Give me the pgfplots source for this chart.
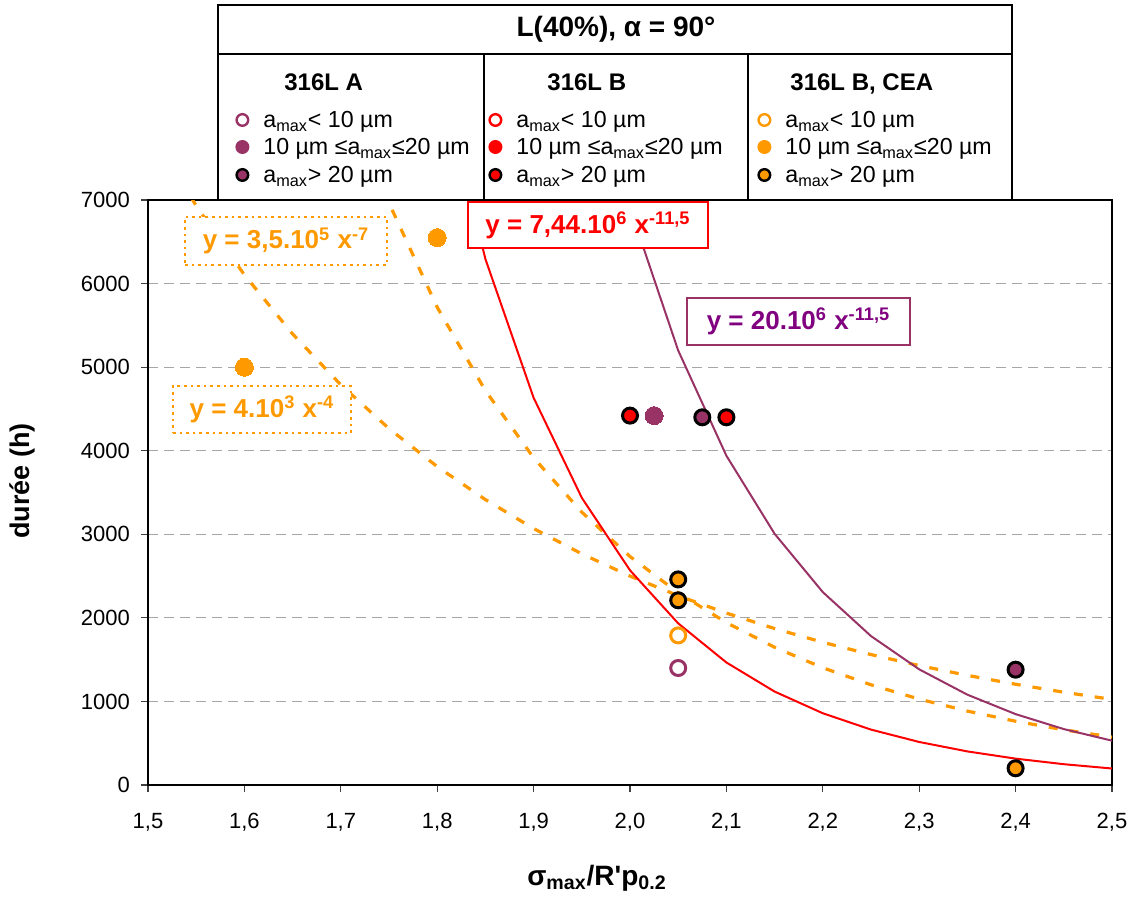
\documentclass[border=0pt]{standalone}
\usepackage{fontspec}
\setmainfont{Liberation Sans}
\usepackage{pgfplots}
\pgfplotsset{compat=1.18}
\definecolor{xorange}{HTML}{FF9900}
\definecolor{xred}{HTML}{FF0000}
\definecolor{xpurple}{HTML}{993366}
\definecolor{xviolet}{HTML}{800080}
\newcommand{\gOpen}[1]{\tikz[baseline={(0,-4pt)}]\draw[draw=#1,fill=white,line width=1.2pt](0,0) circle (2.9pt);}
\newcommand{\gFill}[1]{\tikz[baseline={(0,-4pt)}]\fill[#1](0,0) circle (3.5pt);}
\newcommand{\gRing}[1]{\tikz[baseline={(0,-4pt)}]\draw[draw=black,fill=#1,line width=1.2pt](0,0) circle (2.9pt);}
\newcommand{\lA}{a\textsubscript{max}< 10 µm}
\newcommand{\lB}{10 µm ≤a\textsubscript{max}≤20 µm}
\newcommand{\lC}{a\textsubscript{max}> 20 µm}
\begin{document}
\begin{tikzpicture}
\begin{axis}[
  at={(0pt,0pt)}, anchor=south west,
  scale only axis, width=482pt, height=292.5pt,
  xmin=1.5, xmax=2.5, ymin=0, ymax=7000,
  xtick={1.5,1.6,1.7,1.8,1.9,2.0,2.1,2.2,2.3,2.4,2.5},
  ytick={0,1000,2000,3000,4000,5000,6000,7000},
  tick pos=left, tick align=outside, major tick length=3.5pt,
  tick style={black!75, line width=0.6pt},
  axis line style={black, line width=0.6pt},
  ymajorgrids, major grid style={gray!70, line width=0.6pt, dash pattern=on 5pt off 3pt},
  /pgf/number format/assume math mode=true,
  tick label style={font=\fontsize{11}{13}\selectfont},
  x tick label style={/pgf/number format/.cd, fixed, fixed zerofill, precision=1, use comma},
  y tick label style={/pgf/number format/.cd, fixed, 1000 sep={}},
  xticklabel shift=7pt, yticklabel shift=2pt,
  clip=true,
]
% power-law trend curves (values tabulated at 0.05 steps)
\addplot[xorange, line width=1.6pt, dash pattern=on 4.5pt off 6pt] coordinates {
 (1.5,7901)(1.55,6930)(1.6,6104)(1.65,5397)(1.7,4789)(1.75,4265)(1.8,3810)(1.85,3415)(1.9,3069)(1.95,2766)(2.0,2500)(2.05,2265)(2.1,2057)(2.15,1872)(2.2,1707.5)(2.25,1560.7)(2.3,1429.4)(2.35,1311.6)(2.4,1205.6)(2.45,1110.2)(2.5,1024)};
\addplot[xorange, line width=1.6pt, dash pattern=on 4.5pt off 6pt] coordinates {
 (1.7,8530)(1.75,6963)(1.8,5717)(1.85,4719)(1.9,3916)(1.95,3265)(2.0,2734)(2.05,2300)(2.1,1943)(2.15,1648)(2.2,1403)(2.25,1199)(2.3,1028)(2.35,884.3)(2.4,763.1)(2.45,660.5)(2.5,573.4)};
\addplot[xred, line width=1pt] coordinates {
 (1.8,8627)(1.85,6294)(1.9,4634)(1.95,3437)(2.0,2569)(2.05,1934)(2.1,1466)(2.15,1118)(2.2,858.6)(2.25,662.9)(2.3,514.8)(2.35,401.9)(2.4,315.5)(2.45,248.9)(2.5,197.3)};
\addplot[xpurple, line width=1pt] coordinates {
 (1.95,9240)(2.0,6905)(2.05,5199)(2.1,3940)(2.15,3006)(2.2,2308)(2.25,1782)(2.3,1384)(2.35,1080.5)(2.4,848.1)(2.45,669)(2.5,530.3)};
% data points
\addplot[only marks, mark=*, mark size=4.5pt, mark options={draw=xorange, fill=xorange, line width=0pt}] coordinates {(1.6,5000)(1.8,6550)};
\addplot[only marks, mark=*, mark size=3.75pt, mark options={draw=black, fill=xorange, line width=1.5pt}] coordinates {(2.05,2460)(2.05,2210)(2.4,200)};
\addplot[only marks, mark=*, mark size=3.75pt, mark options={draw=xorange, fill=white, line width=1.5pt}] coordinates {(2.05,1790)};
\addplot[only marks, mark=*, mark size=3.75pt, mark options={draw=xpurple, fill=white, line width=1.5pt}] coordinates {(2.05,1400)};
\addplot[only marks, mark=*, mark size=4.5pt, mark options={draw=xpurple, fill=xpurple, line width=0pt}] coordinates {(2.025,4420)};
\addplot[only marks, mark=*, mark size=3.75pt, mark options={draw=black, fill=xpurple, line width=1.5pt}] coordinates {(2.075,4400)(2.4,1380)};
\addplot[only marks, mark=*, mark size=3.75pt, mark options={draw=black, fill=xred, line width=1.5pt}] coordinates {(2.0,4420)(2.1,4400)};
\end{axis}
% equation labels
\node[draw=xorange, dotted, line width=1.3pt, fill=white, text=xorange, font=\bfseries\fontsize{13}{15}\selectfont, minimum width=101pt, minimum height=24pt, inner sep=0pt] at (69pt,272pt) {y = 3,5.10\textsuperscript{5} x\textsuperscript{-7}};
\node[draw=xorange, dotted, line width=1.3pt, fill=white, text=xorange, font=\bfseries\fontsize{13}{15}\selectfont, minimum width=89pt, minimum height=23.5pt, inner sep=0pt] at (57pt,187.75pt) {y = 4.10\textsuperscript{3} x\textsuperscript{-4}};
\node[draw=xred, line width=0.6pt, fill=white, text=xred, font=\bfseries\fontsize{13}{15}\selectfont, minimum width=120pt, minimum height=23pt, inner sep=0pt] at (220pt,280pt) {y = 7,44.10\textsuperscript{6} x\textsuperscript{-11,5}};
\node[draw=xpurple, line width=0.6pt, fill=white, text=xviolet, font=\bfseries\fontsize{13}{15}\selectfont, minimum width=111.5pt, minimum height=23.5pt, inner sep=0pt] at (325.25pt,231.75pt) {y = 20.10\textsuperscript{6} x\textsuperscript{-11,5}};
% legend table
\fill[white] (35pt,292.5pt) rectangle (432pt,390pt);
\draw[line width=1.2pt] (35pt,292.5pt) rectangle (432pt,390pt);
\draw[line width=1.2pt] (35pt,365.5pt) -- (432pt,365.5pt);
\draw[line width=1.2pt] (168pt,292.5pt) -- (168pt,365.5pt);
\draw[line width=1.2pt] (300pt,292.5pt) -- (300pt,365.5pt);
\node[font=\bfseries\fontsize{14}{16}\selectfont, inner sep=0pt] at (234pt,377.75pt) {L(40\%), α = 90°};
\begin{scope}[every node/.style={anchor=base west, inner sep=0pt, font=\fontsize{11.6}{13}\selectfont}]
\node[font=\bfseries\fontsize{12}{14}\selectfont] at (68pt,347.2pt) {316L A};
\node[font=\bfseries\fontsize{12}{14}\selectfont] at (199.5pt,347.2pt) {316L B};
\node[font=\bfseries\fontsize{12}{14}\selectfont] at (321pt,347.2pt) {316L B, CEA};
\node at (43.5pt,328.5pt) {\gOpen{xpurple}\hspace{7pt}\lA};
\node at (43.5pt,315pt) {\gFill{xpurple}\hspace{7pt}\lB};
\node at (43.5pt,301pt) {\gRing{xpurple}\hspace{7pt}\lC};
\node at (170pt,328.5pt) {\gOpen{xred}\hspace{7pt}\lA};
\node at (170pt,315pt) {\gFill{xred}\hspace{7pt}\lB};
\node at (170pt,301pt) {\gRing{xred}\hspace{7pt}\lC};
\node at (304.5pt,328.5pt) {\gOpen{xorange}\hspace{7pt}\lA};
\node at (304.5pt,315pt) {\gFill{xorange}\hspace{7pt}\lB};
\node at (304.5pt,301pt) {\gRing{xorange}\hspace{7pt}\lC};
\end{scope}
% axis titles
\node[rotate=90, inner sep=0pt, font=\bfseries\fontsize{13.5}{15}\selectfont] at (-63pt,152pt) {durée (h)};
\node[anchor=base, inner sep=0pt, font=\bfseries\fontsize{14}{16}\selectfont] at (224.5pt,-50pt) {σ\textsubscript{max}/R\textquotesingle p\textsubscript{0.2}};
\path (-74pt,-57pt) rectangle (493pt,392.5pt);
\end{tikzpicture}
\end{document}
